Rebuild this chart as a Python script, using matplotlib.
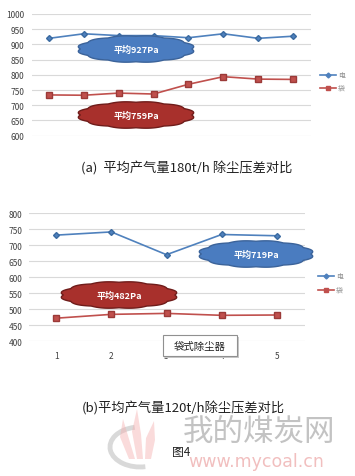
import numpy as np
import matplotlib
matplotlib.use("Agg")
import matplotlib.pyplot as plt
from matplotlib.path import Path
from matplotlib.patches import PathPatch, FancyBboxPatch, Arc, Polygon
from matplotlib.lines import Line2D

plt.rcParams['font.family'] = ['Noto Sans CJK SC', 'DejaVu Sans']

# ---- data ----
x_a = [1, 2, 3, 4, 5, 6, 7, 8]
blue_a = [920, 935, 929, 929, 922, 935, 920, 927]
red_a = [734, 733, 740, 737, 769, 794, 786, 785]
yticks_a = [600, 650, 700, 750, 800, 850, 900, 950, 1000]

x_b = [1, 2, 3, 4, 5]
blue_b = [731, 741, 670, 733, 729]
red_b = [472, 484, 487, 481, 482]
yticks_b = [400, 450, 500, 550, 600, 650, 700, 750, 800]
xticklabels_b = ['1', '2', '3', '4', '5']

legend_labels = ['电', '袋']
cloud_a_blue = '平均927Pa'
cloud_a_red = '平均759Pa'
cloud_b_blue = '平均719Pa'
cloud_b_red = '平均482Pa'
caption_a = '(a)  平均产气量180t/h 除尘压差对比'
caption_b = '(b)平均产气量120t/h除尘压差对比'
callout = '袋式除尘器'
fig_label = '图4'

W, H = 355, 477
fig = plt.figure(figsize=(W / 100, H / 100), dpi=100)
fig.patch.set_facecolor('white')

BLUE = '#4F81BD'
RED = '#C0504D'
GRID = '#d9d9d9'


def px(x, y):
    return x / W, 1 - y / H


def style_ax(ax, yt, pad):
    for s in ax.spines.values():
        s.set_visible(False)
    ax.set_yticks(yt)
    ax.yaxis.grid(True, color=GRID, lw=0.8)
    ax.set_axisbelow(True)
    ax.tick_params(axis='both', length=0, labelsize=6, colors='#404040', pad=pad)


# ---- chart a ----
axa = fig.add_axes([31.5 / W, 1 - 136.7 / H, 279 / W, (136.7 - 15) / H])
axa.plot(x_a, blue_a, color=BLUE, lw=1.2, marker='D', ms=3, mfc=BLUE, mec='#3a6aa0')
axa.plot(x_a, red_a, color=RED, lw=1.2, marker='s', ms=4, mfc=RED, mec='#9b3a38')
axa.set_xlim(0.5, 8.5)
axa.set_ylim(600, 1000)
style_ax(axa, yticks_a, 5)
axa.set_xticks([])

# ---- chart b ----
axb = fig.add_axes([28.5 / W, 1 - 342.3 / H, 276 / W, (342.3 - 214) / H])
axb.plot(x_b, blue_b, color=BLUE, lw=1.2, marker='D', ms=3, mfc=BLUE, mec='#3a6aa0')
axb.plot(x_b, red_b, color=RED, lw=1.2, marker='s', ms=4, mfc=RED, mec='#9b3a38')
axb.set_xlim(0.5, 5.5)
axb.set_ylim(400, 800)
style_ax(axb, yticks_b, 4.5)
axb.set_xticks(x_b)
axb.set_xticklabels(xticklabels_b)
axb.tick_params(axis='x', pad=7)


# ---- clouds ----
def cloud(cx, cy, w, h, fc, ec, text, bumps=6):
    t = np.linspace(0, 2 * np.pi, 800)
    r = 1 + 0.06 * np.abs(np.sin(bumps * t))
    xs = cx + (w / 2) * np.cos(t) * r / 1.06
    ys = cy + (h / 2) * np.sin(t) * r / 1.06
    verts = [px(a, b) for a, b in zip(xs, ys)]
    p = PathPatch(Path(verts + [verts[0]]), transform=fig.transFigure,
                  fc=fc, ec=ec, lw=1.0, zorder=10)
    fig.add_artist(p)
    fx, fy = px(cx, cy)
    fig.text(fx, fy, text, color='white', fontsize=6.5, fontweight='bold',
             ha='center', va='center', zorder=11)


cloud(136, 50, 118, 27, '#4a7cc0', '#3b639a', cloud_a_blue)
cloud(136, 116, 118, 27, '#a8302c', '#6f1c1a', cloud_a_red)
cloud(256, 255, 116, 27, '#4a7cc0', '#3b639a', cloud_b_blue)
cloud(119, 296, 118, 27, '#a8302c', '#6f1c1a', cloud_b_red)

# ---- legends ----
for (lx, ly), col, mk, ms in [((320, 76), BLUE, 'D', 2.5), ((320, 89), RED, 's', 3.5),
                              ((318, 277), BLUE, 'D', 2.5), ((318, 291), RED, 's', 3.5)]:
    x0, y0 = px(lx, ly)
    x1, _ = px(lx + 16, ly)
    fig.add_artist(Line2D([x0, x1], [y0, y0], color=col, lw=1.2,
                          transform=fig.transFigure))
    fig.add_artist(Line2D([(x0 + x1) / 2], [y0], color=col, marker=mk, ms=ms,
                          transform=fig.transFigure))
for i, (lx, ly) in enumerate([(338, 76), (338, 89), (336, 277), (336, 291)]):
    fx, fy = px(lx, ly)
    fig.text(fx, fy, legend_labels[i % 2], fontsize=5, color='#909090',
             ha='left', va='center')

# ---- callout box ----
bx0, by0 = px(163, 357)
bx1, by1 = px(237, 336)
shadow = FancyBboxPatch((bx0 + 2 / W, by0 - 2 / H), bx1 - bx0, by1 - by0,
                        boxstyle='square,pad=0', transform=fig.transFigure,
                        fc='#c8c8c8', ec='none', zorder=12)
fig.add_artist(shadow)
box = FancyBboxPatch((bx0, by0), bx1 - bx0, by1 - by0, boxstyle='square,pad=0',
                     transform=fig.transFigure, fc='white', ec='#909090', lw=0.8, zorder=13)
fig.add_artist(box)
fig.text((bx0 + bx1) / 2, (by0 + by1) / 2, callout, fontsize=7.5, color='#202020',
         ha='center', va='center', zorder=14)

# ---- watermark ----
arc_c = px(140, 448)
fig.add_artist(Arc(arc_c, 60 / W, 40 / H, theta1=110, theta2=290,
                   transform=fig.transFigure, color='#d0d0d0', lw=3.5, alpha=0.8, zorder=1))
for dx, hgt, lean in [(-8, 40, -6), (0, 50, -2), (8, 38, 4)]:
    bxp, byp = 140 + dx, 460
    pts = [px(bxp - 3, byp), px(bxp - 6 + lean, byp - hgt * 0.55),
           px(bxp + lean * 1.5, byp - hgt), px(bxp + 3 + lean, byp - hgt * 0.5),
           px(bxp + 3, byp)]
    fig.add_artist(Polygon(pts, closed=True, transform=fig.transFigure,
                           fc='#f4b0b0', ec='none', alpha=0.45, zorder=1))
wx, wy = px(259, 432)
fig.text(wx, wy, '我的煤炭网', fontsize=22, color='#b4b4b4', alpha=0.8,
         ha='center', va='center', zorder=1)
wx, wy = px(256, 462)
fig.text(wx, wy, 'www.mycoal.cn', fontsize=12.5, color='#f0b8b8', alpha=0.9,
         ha='center', va='center', zorder=1, family='DejaVu Sans')

# ---- captions ----
cx_, cy_ = px(187, 168)
fig.text(cx_, cy_, caption_a, fontsize=9.5, color='#202020', ha='center', va='center')
cx_, cy_ = px(183, 408)
fig.text(cx_, cy_, caption_b, fontsize=9.5, color='#202020', ha='center', va='center', zorder=5)
cx_, cy_ = px(181, 453)
fig.text(cx_, cy_, fig_label, fontsize=8.5, color='#202020', ha='center', va='center', zorder=5)

fig.savefig('out.png', dpi=100, facecolor='white')
